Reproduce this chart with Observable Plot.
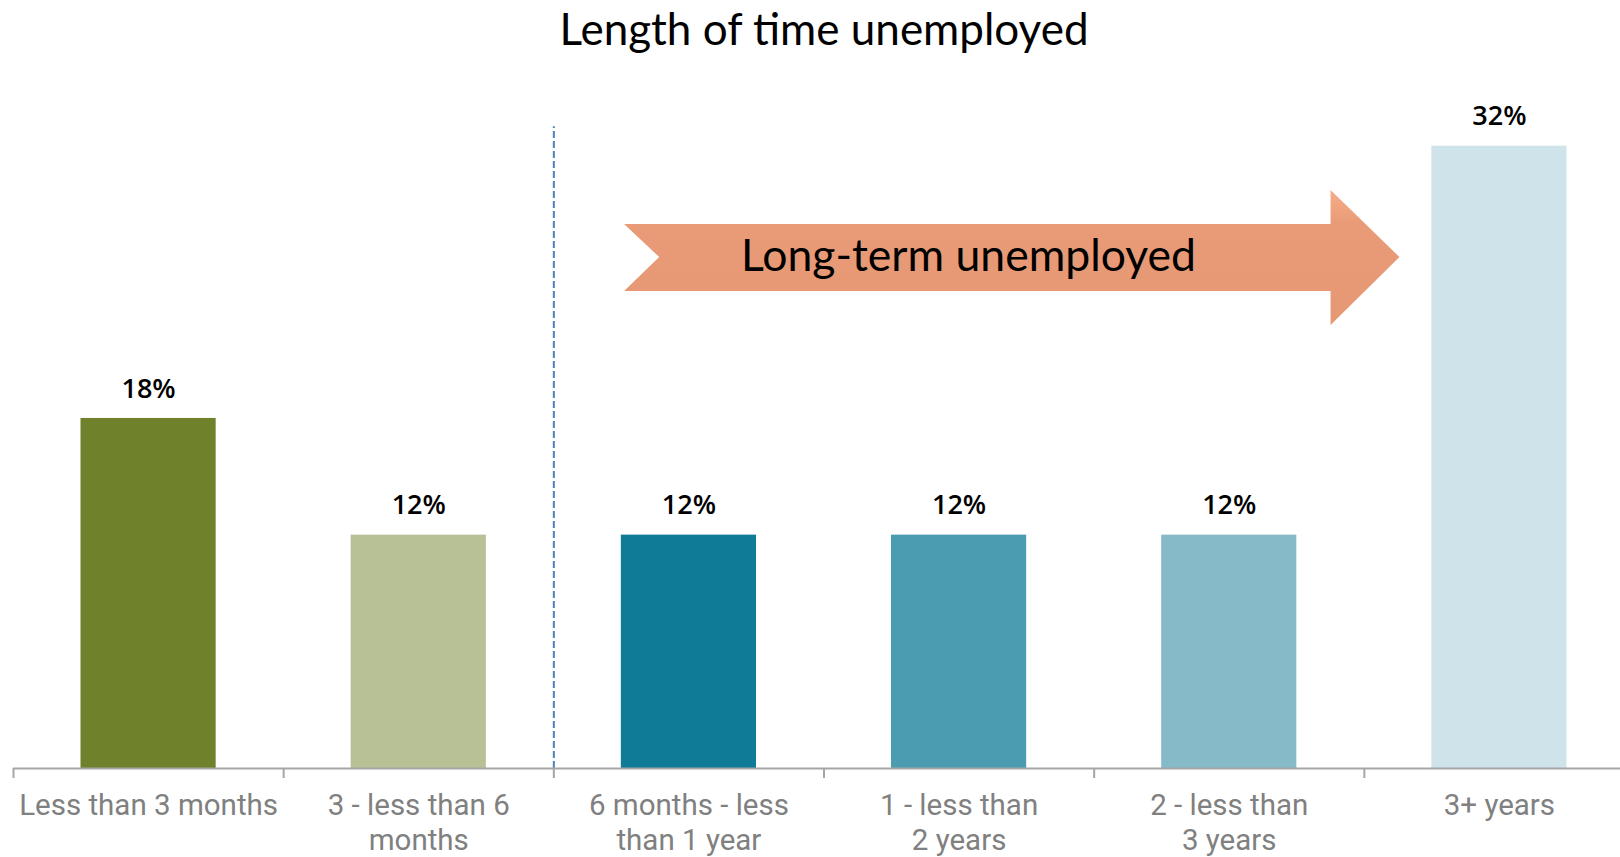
<!DOCTYPE html>
<html>
<head>
<meta charset="utf-8">
<script src="https://cdn.jsdelivr.net/npm/d3@7"></script>
<script src="https://cdn.jsdelivr.net/npm/@observablehq/plot@0.6"></script>
<style>
  html, body { margin: 0; padding: 0; background: #fff; overflow: hidden; }
  #wrap { width: 1620px; height: 857px; position: relative; }
  #title { height: 60px; box-sizing: border-box; padding-left: 28px; text-align: center;
    font-family: Lato, "Open Sans", sans-serif; font-size: 44px; line-height: 56px; color: #000; }
  #chart svg { display: block; max-width: none; overflow: visible; }
</style>
</head>
<body>
<div id="wrap">
  <div id="title">Length of time unemployed</div>
  <div id="chart"></div>
</div>
<script>
// Data
const categories = ["Less than 3 months", "3 - less than 6\nmonths", "6 months - less\nthan 1 year", "1 - less than\n2 years", "2 - less than\n3 years", "3+ years"];
const values = [18, 12, 12, 12, 12, 32];
const colors = ["#6f822b", "#b7c195", "#107b96", "#4b9cb1", "#87bac9", "#cfe3ea"];
const annotationText = "Long-term unemployed";
// Arrow annotation outline in data units (x: category index, y: percent)
const arrowX = [2.26, 4.875, 4.875, 5.13, 4.875, 4.875, 2.26, 2.39];
const arrowY = [28.0, 28.0, 29.75, 26.3, 22.8, 24.55, 24.55, 26.3];
const dividerAt = 2;
const dividerTop = 33;

const rows = categories.map((c, i) => ({i, c, v: values[i], color: colors[i]}));
const arrowPts = arrowX.map((x, k) => ({x, y: arrowY[k]}));

const svgH = 797;
const plot = Plot.plot({
  width: 1620,
  height: svgH,
  marginLeft: 13,
  marginRight: -14,
  marginTop: 85.7,
  marginBottom: 89,
  x: {type: "linear", domain: [0, 6], axis: null},
  y: {type: "linear", domain: [0, 32], axis: null},
  style: {background: "transparent", overflow: "visible"},
  marks: [
    Plot.rectY(rows, {x1: d => d.i, x2: d => d.i + 1, y1: () => 0, y2: "v", fill: "color", insetLeft: 67.5, insetRight: 67.5}),
    Plot.text(rows, {x: d => d.i + 0.5, y: "v", text: d => `${d.v}%`, dy: -29.5,
      fontSize: 27, fontWeight: 600, fill: "#000", fontFamily: "'Open Sans', sans-serif"}),
    Plot.ruleX([dividerAt], {y1: () => 0, y2: () => dividerTop, stroke: "#4f81bd", strokeWidth: 2, strokeDasharray: "7,3"}),
    Plot.line(arrowPts, {x: "x", y: "y", curve: "linear-closed", fill: "url(#arrowGrad)", stroke: "none",
      style: "filter: drop-shadow(2px 3px 3px rgba(0,0,0,0.3))"}),
    Plot.text([annotationText], {x: () => 3.535, y: () => 26.3, text: d => d, fontSize: 44.5, fill: "#000",
      fontFamily: "Lato, 'Open Sans', sans-serif"}),
    Plot.ruleY([0], {stroke: "#a6a6a6", strokeWidth: 2}),
    Plot.axisX({ticks: d3.range(0, 7), tickSize: 10, tickFormat: () => "", label: null, stroke: "#a6a6a6", strokeWidth: 2}),
    Plot.text(rows, {x: d => d.i + 0.5, frameAnchor: "bottom", text: "c", lineAnchor: "top", dy: 21,
      lineHeight: 1.2, fontSize: 29.5, fill: "#808080", fontFamily: "Roboto, sans-serif"})
  ]
});
document.getElementById("chart").append(plot);

// gradient definition for the arrow
const svg = d3.select(plot);
const defs = svg.insert("defs", ":first-child");
const g = defs.append("linearGradient").attr("id", "arrowGrad").attr("x1", 0).attr("y1", 0).attr("x2", 0).attr("y2", 1);
g.append("stop").attr("offset", "0%").attr("stop-color", "#f6ad8a");
g.append("stop").attr("offset", "25%").attr("stop-color", "#e89b76");
g.append("stop").attr("offset", "100%").attr("stop-color", "#e59873");
</script>
</body>
</html>
